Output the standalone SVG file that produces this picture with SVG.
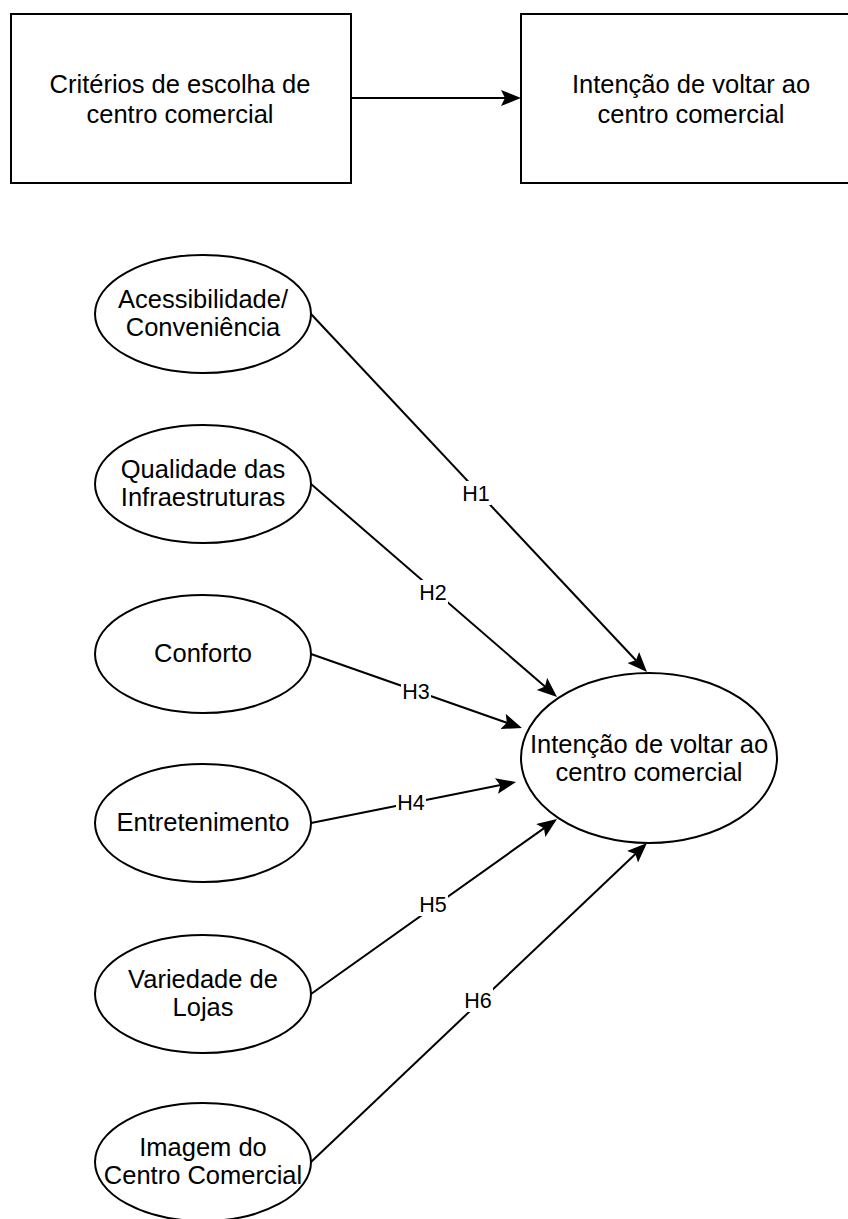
<svg xmlns="http://www.w3.org/2000/svg" width="848" height="1219" viewBox="0 0 848 1219">
<style>
.shape{fill:#fff;stroke:#000;stroke-width:2}
.t{font-family:"Liberation Sans",Arial,sans-serif;font-size:25.5px;fill:#000;text-anchor:middle}
.lbl{font-family:"Liberation Sans",Arial,sans-serif;font-size:21.5px;fill:#000;text-anchor:middle}
.edge{fill:none;stroke:#000;stroke-width:2}
.lblbg{fill:#fff}
</style>
<defs>
<marker id="arr" markerUnits="userSpaceOnUse" markerWidth="22" markerHeight="18" refX="12" refY="8" orient="auto">
<path d="M0,0 L20,8 L0,16 L4,8 Z" fill="#000"/>
</marker>
</defs>
<rect width="848" height="1219" fill="#fff"/>
<g id="edges">
<line class="edge" x1="351" y1="98" x2="513" y2="98" marker-end="url(#arr)"/>
<line class="edge" x1="311" y1="314" x2="641.5" y2="666.2" marker-end="url(#arr)"/>
<line class="edge" x1="311" y1="484" x2="551" y2="691.8" marker-end="url(#arr)"/>
<line class="edge" x1="311" y1="654" x2="514.4" y2="725.4" marker-end="url(#arr)"/>
<line class="edge" x1="311" y1="823" x2="508.2" y2="783.6" marker-end="url(#arr)"/>
<line class="edge" x1="311" y1="994" x2="550.5" y2="823.6" marker-end="url(#arr)"/>
<line class="edge" x1="311" y1="1162" x2="641.2" y2="848.5" marker-end="url(#arr)"/>
<g id="edge-labels">
<rect class="lblbg" x="461" y="481" width="30" height="24"/><text class="lbl" x="476" y="501">H1</text>
<rect class="lblbg" x="418" y="580" width="30" height="24"/><text class="lbl" x="433" y="600">H2</text>
<rect class="lblbg" x="401" y="679" width="30" height="24"/><text class="lbl" x="416" y="699">H3</text>
<rect class="lblbg" x="396" y="790" width="30" height="24"/><text class="lbl" x="411" y="810">H4</text>
<rect class="lblbg" x="418" y="892" width="30" height="24"/><text class="lbl" x="433" y="912">H5</text>
<rect class="lblbg" x="463" y="988" width="30" height="24"/><text class="lbl" x="478" y="1008">H6</text>
</g>
</g>
<g id="box-criterios">
<rect class="shape" x="11" y="14" width="340" height="169"/>
<text class="t" x="180" y="93">Critérios de escolha de</text>
<text class="t" x="180" y="123">centro comercial</text>
</g>
<g id="box-intencao">
<rect class="shape" x="521" y="14" width="340" height="169"/>
<text class="t" x="691" y="93">Intenção de voltar ao</text>
<text class="t" x="691" y="123">centro comercial</text>
</g>
<g id="e-acessibilidade">
<ellipse class="shape" cx="203" cy="314" rx="108" ry="59"/>
<text class="t" x="203" y="308">Acessibilidade/</text>
<text class="t" x="203" y="336">Conveniência</text>
</g>
<g id="e-qualidade">
<ellipse class="shape" cx="203" cy="484" rx="108" ry="59"/>
<text class="t" x="203" y="478">Qualidade das</text>
<text class="t" x="203" y="506">Infraestruturas</text>
</g>
<g id="e-conforto">
<ellipse class="shape" cx="203" cy="654" rx="108" ry="59"/>
<text class="t" x="203" y="662">Conforto</text>
</g>
<g id="e-entretenimento">
<ellipse class="shape" cx="203" cy="823" rx="108" ry="59"/>
<text class="t" x="203" y="831">Entretenimento</text>
</g>
<g id="e-variedade">
<ellipse class="shape" cx="203" cy="994" rx="108" ry="59"/>
<text class="t" x="203" y="988">Variedade de</text>
<text class="t" x="203" y="1016">Lojas</text>
</g>
<g id="e-imagem">
<ellipse class="shape" cx="203" cy="1162" rx="108" ry="59"/>
<text class="t" x="203" y="1156">Imagem do</text>
<text class="t" x="203" y="1184">Centro Comercial</text>
</g>
<g id="e-intencao">
<ellipse class="shape" cx="649" cy="758" rx="128" ry="85"/>
<text class="t" x="649" y="753">Intenção de voltar ao</text>
<text class="t" x="649" y="781">centro comercial</text>
</g>
</svg>
